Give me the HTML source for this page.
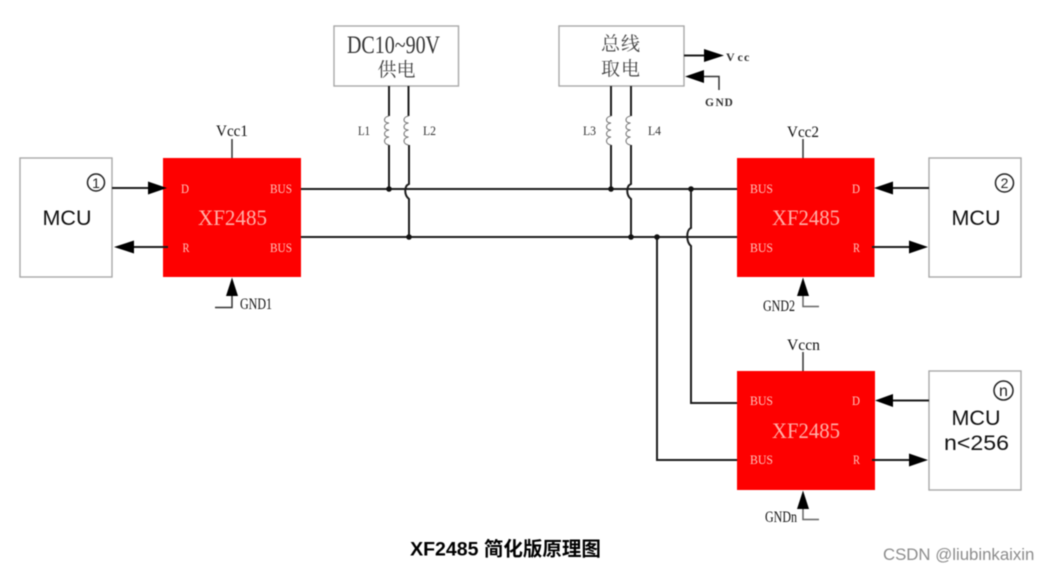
<!DOCTYPE html>
<html><head><meta charset="utf-8"><style>
html,body{margin:0;padding:0;background:#fff;width:1049px;height:571px;overflow:hidden}
svg{display:block;filter:blur(.45px)}
.s{font-family:"Liberation Serif","Noto Serif CJK SC",serif}
.w{font-family:"Liberation Sans","Noto Sans CJK SC",sans-serif}
.pin{fill:#ffc4bc;font-size:12.500px;font-family:"Liberation Serif",serif}
.chip{fill:#ffb0a8;font-size:22px;font-family:"Liberation Serif",serif}
.lab{fill:#111;font-size:16px;font-family:"Liberation Serif",serif}
.sm{fill:#333;font-size:12.500px;font-family:"Liberation Serif",serif}
.mcu{fill:#111;font-size:21.500px;font-family:"Liberation Sans",sans-serif;text-anchor:middle}
.box{fill:#fff;stroke:#a8a8a8;stroke-width:1.400}
.l{fill:none;stroke:#1c1c1c;stroke-width:2}
.t{fill:none;stroke:#333;stroke-width:1.500}
.c{fill:none;stroke:#777;stroke-width:1.100}
</style></head><body>
<svg width="1049" height="571" viewBox="0 0 1049 571" xmlns="http://www.w3.org/2000/svg">
<rect width="1049" height="571" fill="#fff"/>

<!-- boxes -->
<rect class="box" x="20" y="158" width="92" height="119"/>
<rect class="box" x="929" y="158" width="92" height="119"/>
<rect class="box" x="929" y="371" width="92" height="119"/>
<rect class="box" x="334" y="26" width="124.500" height="60"/>
<rect class="box" x="559" y="26" width="125" height="60"/>

<!-- chips -->
<rect x="163" y="158" width="138" height="119" fill="#fe0000"/>
<rect x="737" y="158" width="137.500" height="119" fill="#fe0000"/>
<rect x="737" y="371" width="138" height="119" fill="#fe0000"/>

<!-- bus -->
<path class="l" d="M301 189H737M301 237H737"/>

<!-- verticals -->
<path class="l" d="M389 86V116M389 145V189"/>
<path class="l" d="M408.500 86V116M409 145V184C404 186 404 195 409 199V237"/>
<path class="l" d="M611 86V116M611 145V189"/>
<path class="l" d="M631 86V116M631 145V184C626 186 626 195 631 199V237"/>
<path class="l" d="M691 189V228C686 230 686 242 691 246V403H737"/>
<path class="l" d="M657 237V460H737"/>

<!-- coils -->
<path class="c" d="M389 116c-6 1-6 7 0 7c-6 1-6 7 0 7c-6 1-6 7 0 7c-6 1-6 7 0 8"/>
<path class="c" d="M408.500 116c-6 1-6 7 0 7c-6 1-6 7 0 7c-6 1-6 7 0 7c-6 1-6 7 0 8"/>
<path class="c" d="M611 116c-6 1-6 7 0 7c-6 1-6 7 0 7c-6 1-6 7 0 7c-6 1-6 7 0 8"/>
<path class="c" d="M630.500 116c-6 1-6 7 0 7c-6 1-6 7 0 7c-6 1-6 7 0 7c-6 1-6 7 0 8"/>

<!-- dots -->
<g fill="#111">
<circle cx="389" cy="189" r="2.800"/><circle cx="409" cy="237" r="2.800"/>
<circle cx="611" cy="189" r="2.800"/><circle cx="631" cy="237" r="2.800"/>
<circle cx="691" cy="189" r="2.800"/><circle cx="657" cy="237" r="2.800"/>
</g>

<!-- MCU1 arrows -->
<path class="l" d="M112 188H150M118 247H168"/>
<path d="M167 188L148 181.500V194.500Z M114 247L134 240.500V253.500Z" fill="#000"/>
<!-- MCU2 arrows -->
<path class="l" d="M929 188H890M872 247H915"/>
<path d="M874 188L893 181.500V194.500Z M928 247L909 240.500V253.500Z" fill="#000"/>
<!-- MCUn arrows -->
<path class="l" d="M929 400.500H890M872 460H915"/>
<path d="M875 400.500L893 394V407Z M928 460L909 453.500V466.500Z" fill="#000"/>

<!-- Vcc stubs -->
<path class="t" d="M232 139V158M803 139V158M803 352V371"/>

<!-- GND -->
<path class="t" d="M215 307.500H232V290"/>
<path d="M232 277.500L226 296H238Z" fill="#000"/>
<path class="t" d="M803 290V306.500H819" style="stroke:#666"/>
<path d="M803 277.500L797 296H809Z" fill="#000"/>
<path class="t" d="M803 503V519.500H819" style="stroke:#666"/>
<path d="M803 490.500L797 509H809Z" fill="#000"/>

<!-- power box arrows -->
<path class="l" d="M684 55.500H708"/>
<path d="M724 55.500L704 49V62Z" fill="#000"/>
<path class="t" d="M703 76.500H719V90"/>
<path d="M685 76.500L704 70V83Z" fill="#000"/>

<!-- chip text -->
<text class="chip" x="198" y="225" textLength="69" lengthAdjust="spacingAndGlyphs">XF2485</text>
<text class="chip" x="772" y="225" textLength="68" lengthAdjust="spacingAndGlyphs">XF2485</text>
<text class="chip" x="772" y="438" textLength="68" lengthAdjust="spacingAndGlyphs">XF2485</text>
<text class="pin" x="181" y="193" textLength="8" lengthAdjust="spacingAndGlyphs">D</text>
<text class="pin" x="182.500" y="252" textLength="7" lengthAdjust="spacingAndGlyphs">R</text>
<text class="pin" x="270" y="193" textLength="22" lengthAdjust="spacingAndGlyphs">BUS</text>
<text class="pin" x="270" y="252" textLength="22" lengthAdjust="spacingAndGlyphs">BUS</text>
<text class="pin" x="750" y="193" textLength="23" lengthAdjust="spacingAndGlyphs">BUS</text>
<text class="pin" x="750" y="252" textLength="23" lengthAdjust="spacingAndGlyphs">BUS</text>
<text class="pin" x="852" y="193" textLength="8" lengthAdjust="spacingAndGlyphs">D</text>
<text class="pin" x="853" y="252" textLength="7" lengthAdjust="spacingAndGlyphs">R</text>
<text class="pin" x="750" y="405" textLength="23" lengthAdjust="spacingAndGlyphs">BUS</text>
<text class="pin" x="750" y="464" textLength="23" lengthAdjust="spacingAndGlyphs">BUS</text>
<text class="pin" x="852" y="405" textLength="8" lengthAdjust="spacingAndGlyphs">D</text>
<text class="pin" x="853" y="464" textLength="7" lengthAdjust="spacingAndGlyphs">R</text>

<!-- labels -->
<text class="lab" x="216" y="136" textLength="32" lengthAdjust="spacingAndGlyphs">Vcc1</text>
<text class="lab" x="787" y="137" textLength="32" lengthAdjust="spacingAndGlyphs">Vcc2</text>
<text class="lab" x="787" y="350" textLength="33" lengthAdjust="spacingAndGlyphs">Vccn</text>
<text class="lab" x="240" y="309" textLength="32" lengthAdjust="spacingAndGlyphs">GND1</text>
<text class="lab" x="763" y="311" textLength="32" lengthAdjust="spacingAndGlyphs">GND2</text>
<text class="lab" x="765" y="522" textLength="32" lengthAdjust="spacingAndGlyphs">GNDn</text>
<text class="sm" x="358" y="135" textLength="12" lengthAdjust="spacingAndGlyphs">L1</text>
<text class="sm" x="423" y="135" textLength="13" lengthAdjust="spacingAndGlyphs">L2</text>
<text class="sm" x="583" y="135" textLength="13" lengthAdjust="spacingAndGlyphs">L3</text>
<text class="sm" x="648" y="135" textLength="13" lengthAdjust="spacingAndGlyphs">L4</text>
<text class="s" x="347" y="53" font-size="25" fill="#333" textLength="93" lengthAdjust="spacingAndGlyphs">DC10~90V</text>
<text class="s" x="396.500" y="76" text-anchor="middle" font-size="19" fill="#444">供电</text>
<text class="s" x="621" y="50" text-anchor="middle" font-size="19" fill="#444" letter-spacing="1">总线</text>
<text class="s" x="621" y="75" text-anchor="middle" font-size="19" fill="#444" letter-spacing="1">取电</text>
<text class="sm" x="726 737.500 744" y="61" style="font-weight:bold;font-size:12px">Vcc</text>
<text class="sm" x="705 715.500 724.500" y="106" style="font-weight:bold;font-size:11.500px">GND</text>

<!-- MCU text -->
<text class="mcu" x="67" y="225">MCU</text>
<text class="mcu" x="976" y="225">MCU</text>
<text class="mcu" x="976" y="425">MCU</text>
<text class="mcu" x="944" y="450" style="text-anchor:start" textLength="65" lengthAdjust="spacingAndGlyphs">n&lt;256</text>

<!-- numbers -->
<g fill="none" stroke="#222" stroke-width="1.500">
<circle cx="96" cy="182.500" r="8.500"/>
<circle cx="1004.500" cy="183" r="9"/>
<circle cx="1003.500" cy="390.500" r="9.500"/>
</g>
<text class="w" x="96" y="188" text-anchor="middle" font-size="14" fill="#222">1</text>
<text class="w" x="1004.500" y="188" text-anchor="middle" font-size="14" fill="#222">2</text>
<text class="w" x="1003.500" y="396" text-anchor="middle" font-size="16" fill="#222">n</text>

<!-- caption -->
<text x="505.500" y="555.500" text-anchor="middle" font-size="19.500" font-weight="bold" fill="#000" font-family="'Liberation Sans','Noto Sans CJK SC',sans-serif">XF2485 简化版原理图</text>
<text x="883" y="560" font-size="16.800" fill="#8c8c8c" font-family="'Liberation Sans','Noto Sans CJK SC',sans-serif">CSDN @liubinkaixin</text>
</svg>
</body></html>
